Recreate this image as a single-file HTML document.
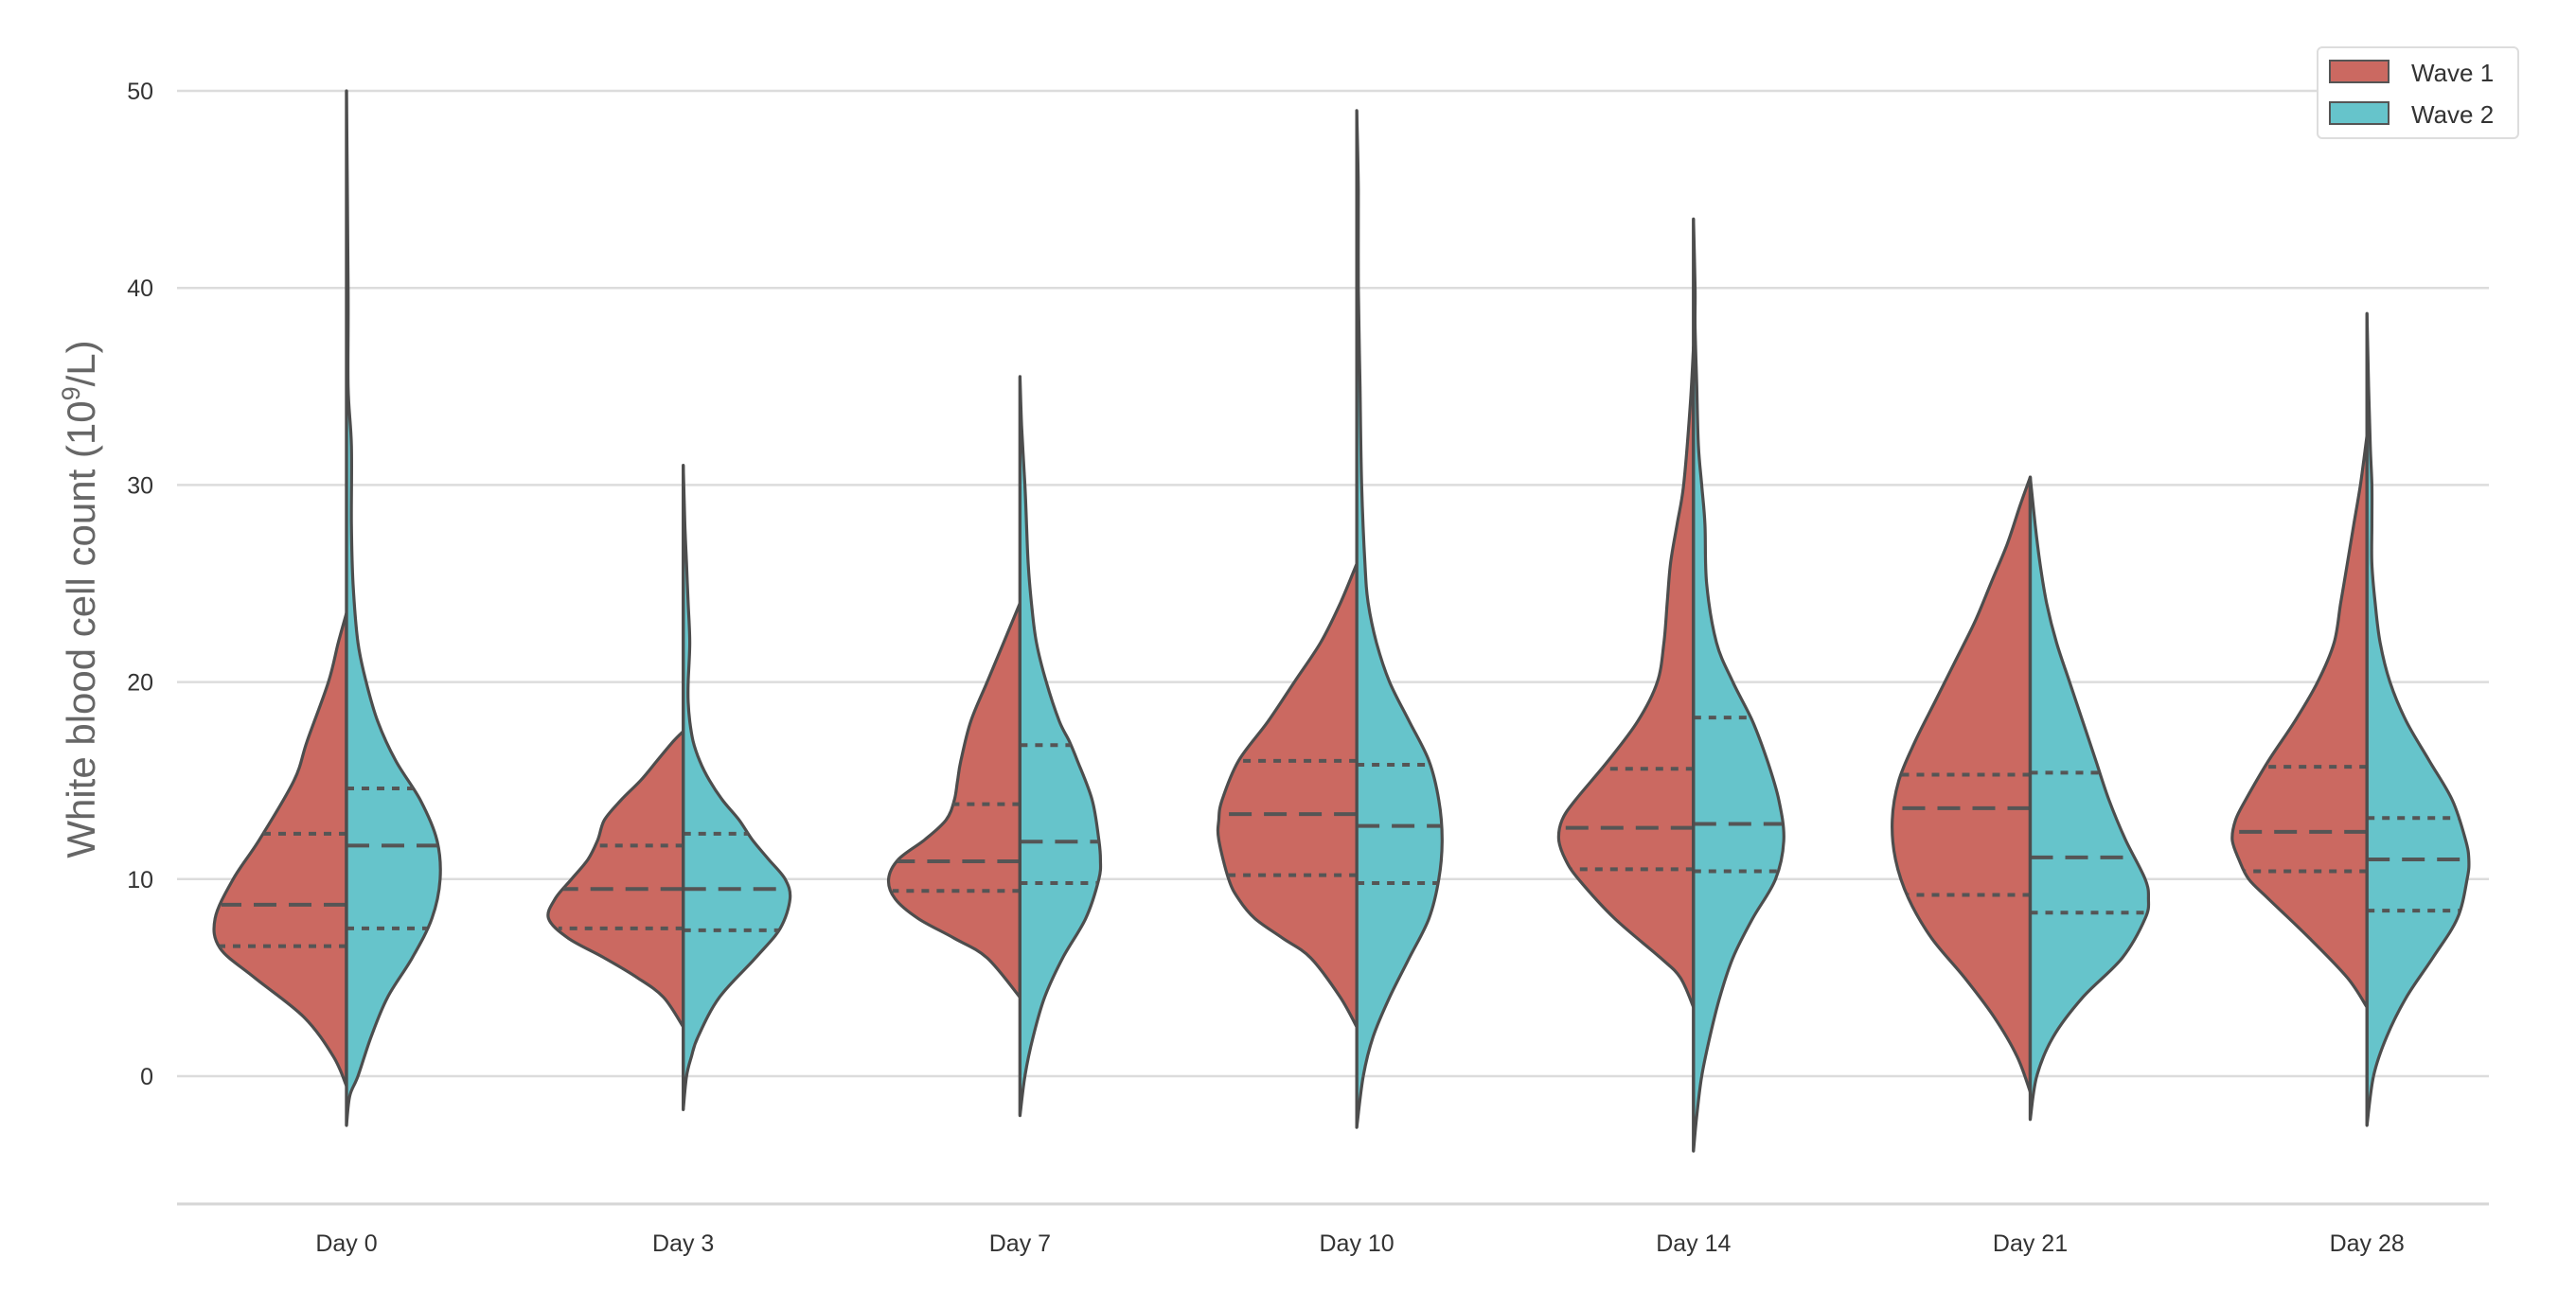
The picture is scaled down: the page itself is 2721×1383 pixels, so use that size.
<!DOCTYPE html>
<html><head><meta charset="utf-8"><style>
html,body{margin:0;padding:0;background:#fff;}
svg{display:block;font-family:"Liberation Sans",sans-serif;}
</style></head><body>
<svg id="chart" width="2721" height="1383" viewBox="0 0 2721 1383" xmlns="http://www.w3.org/2000/svg">
<g id="grid"></g>
<g id="violins"></g>
<g id="labels"></g>
<text transform="translate(100,633) rotate(-90)" text-anchor="middle" font-size="42" fill="#666" font-family="'Liberation Sans Narrow','Liberation Sans',sans-serif">White blood cell count (10<tspan font-size="27" dy="-16">9</tspan><tspan dy="16">/L)</tspan></text>
<g>
<rect x="2448" y="50" width="212" height="96" rx="5" fill="#fff" stroke="#ddd" stroke-width="2"/>
<rect x="2461" y="64" width="62" height="23" fill="#cb6961" stroke="#555" stroke-width="2"/>
<text x="2547" y="86" font-size="26" fill="#333">Wave 1</text>
<rect x="2461" y="108" width="62" height="23" fill="#66c4cb" stroke="#555" stroke-width="2"/>
<text x="2547" y="130" font-size="26" fill="#333">Wave 2</text>
</g>
</svg>
<script>
const categories=["Day 0","Day 3","Day 7","Day 10","Day 14","Day 21","Day 28"];
const yTicks=[0,10,20,30,40,50];
// wave 1 (left halves): knot values and densities
const w1Y=[
[-0.5,1,3,5,6.5,8,10,12,15,17,20,22,23.5],
[2.5,4,5,6,7,8,9,10,11,12,13,14,15,16,17,17.5],
[4,6,7,8,9,10,11,12,13,14,15,16,18,20,22,24],
[2.5,4,6,7,8,9,10,12,13,14,16,18,20,22,24,26],
[3.5,5,6,8,10,11,12,13,14,16,18,20,22,24,26,28,30,34,37],
[-0.8,1,3,5,7,9,11,13,15,17,19,21,23,25,27,29,30.4],
[3.5,5,7,9,10,11,12,13,14,16,18,20,22,24,26,28,30,32.5]];
const w1D=[
[0,8,26,56,77,80,69,53,32,24,11,5,0],
[0,12,28,48,70,82,78,68,58,52,48,38,26,16,6,0],
[0,20,40,62,76,80,74,58,45,40,38,36,30,20,10,0],
[0,10,28,45,62,72,78,84,84,82,72,54,38,22,10,0],
[0,8,20,48,70,78,82,80,72,52,34,22,18,16,14,10,6,2,0],
[0,8,22,40,60,74,82,84,80,70,58,46,34,24,14,6,0],
[0,12,35,60,72,78,82,80,74,60,44,30,20,16,12,8,4,0]];
const w2Y=[
[-2.5,-1,0,2,4,6,8,10,12,14,16,18,20,22,25,28,32,35,40,50],
[-1.7,0,1,2,4,6,7.5,9,10,11,12,13,14,15,16,17,18,19,20,22,24,26,28,31],
[-2,0,2,4,6,8,10,11,12,14,16,17,18,20,22,24,26,28,30,33,35.5],
[-2.6,0,2,4,6,8,10,12,14,16,18,20,22,24,26,30,35,40,45,49],
[-3.8,-2,0,2,4,6,8,10,12,14,16,18,20,22,25,28,30,32,35,38,40,43.5],
[-2.2,0,2,4,6,8,9,10,12,14,16,18,20,22,24,26,28,30.4],
[-2.5,0,2,4,6,8,10,11,12,14,16,18,20,22,24,26,28,30,32,35,38.7]];
const w2D=[
[0,2,7,15,25,40,52,57,55,45,30,19,12,7,4,3,3,1,1,0],
[0,2,5,9,22,44,59,65,62,52,42,34,24,16,10,6,4,3,3,4,3,2,1,0],
[0,3,8,15,26,40,48,49,48,44,35,30,24,16,10,7,5,4,3,1,0],
[0,4,10,20,32,44,50,52,50,44,32,20,12,7,5,3,2,1,1,0],
[0,2,5,10,16,24,36,50,55,52,45,36,24,14,8,7,5,3,2,1,1,0],
[0,4,14,32,56,70,72,70,58,48,40,32,24,16,10,6,3,0],
[0,4,12,24,40,55,61,62,60,52,38,24,14,8,5,3,3,3,2,1,0]];
const w1Q=[[6.6,8.7,12.3],[7.5,9.5,11.7],[9.4,10.9,13.8],[10.2,13.3,16.0],[10.5,12.6,15.6],[9.2,13.6,15.3],[10.4,12.4,15.7]];
const w2Q=[[7.5,11.7,14.6],[7.4,9.5,12.3],[9.8,11.9,16.8],[9.8,12.7,15.8],[10.4,12.8,18.2],[8.3,11.1,15.4],[8.4,11.0,13.1]];

const NS="http://www.w3.org/2000/svg";
const X0=366,DX=355.7,Y0=1137,PY=20.82,WS=1.735;
const xs=i=>X0+i*DX;
const ys=v=>Y0-v*PY;
function mk(t,a,p){const e=document.createElementNS(NS,t);for(const k in a)e.setAttribute(k,a[k]);p.appendChild(e);return e;}
const grid=document.getElementById('grid'),vg=document.getElementById('violins'),lab=document.getElementById('labels');
yTicks.forEach(t=>{
  const l=mk('line',{x1:187,x2:2629,y1:ys(t),y2:ys(t),stroke:'#dcdcdc','stroke-width':2.5},grid);
  
  
  const tx=mk('text',{x:162,y:ys(t)+9,'text-anchor':'end','font-size':25,fill:'#333'},lab);
  tx.textContent=t;
  
  
});
const ax=mk('line',{x1:187,x2:2629,y1:1272,y2:1272,stroke:'#d6d6d6','stroke-width':3},grid);



function spline(pts){
  let d='M'+pts[0][0]+','+pts[0][1];
  for(let i=0;i<pts.length-1;i++){
    const p0=pts[Math.max(i-1,0)],p1=pts[i],p2=pts[i+1],p3=pts[Math.min(i+2,pts.length-1)];
    const c1=[p1[0]+(p2[0]-p0[0])/6,p1[1]+(p2[1]-p0[1])/6];
    const c2=[p2[0]-(p3[0]-p1[0])/6,p2[1]-(p3[1]-p1[1])/6];
    d+=' C'+c1[0].toFixed(1)+','+c1[1].toFixed(1)+' '+c2[0].toFixed(1)+','+c2[1].toFixed(1)+' '+p2[0].toFixed(1)+','+p2[1].toFixed(1);
  }
  return d;
}
function interp(Y,D,v){
  for(let i=0;i<Y.length-1;i++){if(v>=Y[i]&&v<=Y[i+1]){const t=(v-Y[i])/(Y[i+1]-Y[i]);return D[i]+t*(D[i+1]-D[i]);}}
  return 0;
}
function half(i,Y,D,Q,sign,fill,name){
  const cx=xs(i);
  const pts=Y.map((v,k)=>[cx+sign*D[k]*WS,ys(v)]);
  let d=spline(pts)+' L'+cx+','+ys(Y[Y.length-1])+' L'+cx+','+ys(Y[0])+' Z';
  const p=mk('path',{d:d,fill:fill,stroke:'#4d4d4d','stroke-width':3.2,'stroke-linejoin':'round'},vg);
  
  
  Q.forEach((q,k)=>{
    const w=interp(Y,D,q)*WS;
    const l=mk('line',{x1:cx,x2:cx+sign*w,y1:ys(q),y2:ys(q),stroke:'#555','stroke-width':4,'stroke-dasharray':k==1?'24,13':'8,8'},vg);
    
    
  });
  const c=mk('line',{x1:cx,x2:cx,y1:ys(Y[0]),y2:ys(Y[Y.length-1]),stroke:'#4d4d4d','stroke-width':3.2},vg);
  
  
}
categories.forEach((c,i)=>{
  half(i,w1Y[i],w1D[i],w1Q[i],-1,'#cb6961','violin-wave1-'+i);
  half(i,w2Y[i],w2D[i],w2Q[i],1,'#66c4cb','violin-wave2-'+i);
  const t=mk('text',{x:xs(i),y:1322,'text-anchor':'middle','font-size':25,fill:'#333'},lab);
  t.textContent=c;
  
  
});
</script>
</body></html>
